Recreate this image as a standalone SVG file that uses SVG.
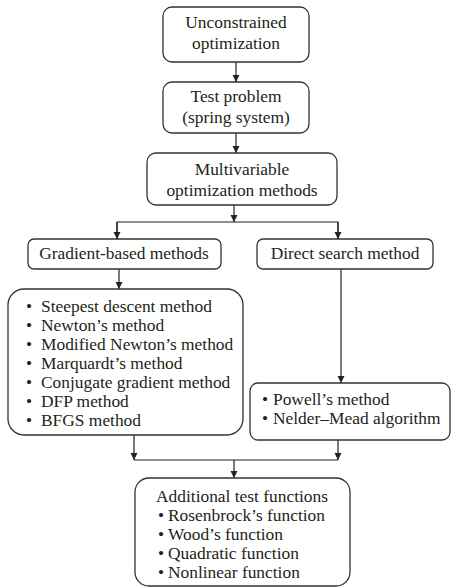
<svg xmlns="http://www.w3.org/2000/svg" width="452" height="588" viewBox="0 0 452 588">
<style>
.box{fill:#fff;stroke:#333;stroke-width:1.3}
.t{font-family:"Liberation Serif","Times New Roman",serif;font-size:17.4px;fill:#231f20}
.c{text-anchor:middle}
.ln{fill:none;stroke:#222;stroke-width:1.2}
</style>
<defs>
<marker id="ah" markerWidth="8" markerHeight="8" refX="7" refY="3.5" orient="auto" markerUnits="userSpaceOnUse">
<path d="M0,0 L7,3.5 L0,7 Z" fill="#222"/>
</marker>
</defs>
<rect width="452" height="588" fill="#fff"/>
<g id="connectors">
<path class="ln" d="M236,62 V82" marker-end="url(#ah)"/>
<path class="ln" d="M236,133 V153" marker-end="url(#ah)"/>
<path class="ln" d="M234,205 V222" marker-end="url(#ah)"/>
<path class="ln" d="M117,239 V222 H338 V239"/>
<path class="ln" d="M117,222 V239" marker-end="url(#ah)"/>
<path class="ln" d="M338,222 V239" marker-end="url(#ah)"/>
<path class="ln" d="M119,269 V289" marker-end="url(#ah)"/>
<path class="ln" d="M341,269 V383" marker-end="url(#ah)"/>
<path class="ln" d="M134,435 V460" marker-end="url(#ah)"/>
<path class="ln" d="M338,440 V460" marker-end="url(#ah)"/>
<path class="ln" d="M134,460 H338"/>
<path class="ln" d="M234,460 V478" marker-end="url(#ah)"/>
</g>
<g id="n1">
<rect class="box" x="163" y="7" width="146" height="55" rx="9"/>
<text class="t c" x="236" y="28">Unconstrained</text>
<text class="t c" x="236" y="49">optimization</text>
</g>
<g id="n2">
<rect class="box" x="163" y="82" width="146" height="51" rx="9"/>
<text class="t c" x="236" y="102">Test problem</text>
<text class="t c" x="236" y="123">(spring system)</text>
</g>
<g id="n3">
<rect class="box" x="147" y="153" width="190" height="52" rx="9"/>
<text class="t c" x="242" y="175">Multivariable</text>
<text class="t c" x="242" y="196">optimization methods</text>
</g>
<g id="n4">
<rect class="box" x="28" y="239" width="193" height="30" rx="6"/>
<text class="t c" x="124" y="259">Gradient-based methods</text>
</g>
<g id="n5">
<rect class="box" x="257" y="239" width="176" height="30" rx="6"/>
<text class="t c" x="345" y="259">Direct search method</text>
</g>
<g id="n6">
<rect class="box" x="8" y="289" width="235" height="146" rx="16"/>
<text class="t" x="26" y="312">•</text><text class="t" x="41" y="312">Steepest descent method</text>
<text class="t" x="26" y="331">•</text><text class="t" x="41" y="331">Newton’s method</text>
<text class="t" x="26" y="350">•</text><text class="t" x="41" y="350">Modified Newton’s method</text>
<text class="t" x="26" y="369">•</text><text class="t" x="41" y="369">Marquardt’s method</text>
<text class="t" x="26" y="388">•</text><text class="t" x="41" y="388">Conjugate gradient method</text>
<text class="t" x="26" y="407">•</text><text class="t" x="41" y="407">DFP method</text>
<text class="t" x="26" y="426">•</text><text class="t" x="41" y="426">BFGS method</text>
</g>
<g id="n7">
<rect class="box" x="250" y="383" width="200" height="57" rx="8"/>
<text class="t" x="262" y="405">•</text><text class="t" x="273" y="405">Powell’s method</text>
<text class="t" x="262" y="424">•</text><text class="t" x="273" y="424">Nelder–Mead algorithm</text>
</g>
<g id="n8">
<rect class="box" x="135" y="478" width="215" height="108" rx="14"/>
<text class="t c" x="242" y="502">Additional test functions</text>
<text class="t" x="158" y="521">•</text><text class="t" x="168" y="521">Rosenbrock’s function</text>
<text class="t" x="158" y="540">•</text><text class="t" x="168" y="540">Wood’s function</text>
<text class="t" x="158" y="559">•</text><text class="t" x="168" y="559">Quadratic function</text>
<text class="t" x="158" y="578">•</text><text class="t" x="168" y="578">Nonlinear function</text>
</g>
</svg>
